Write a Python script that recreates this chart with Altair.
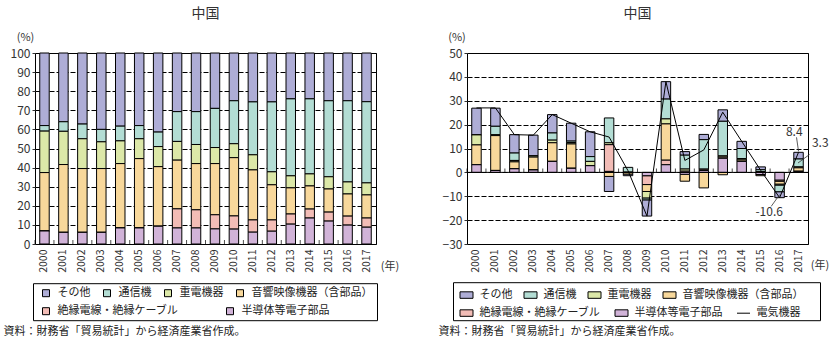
import altair as alt
import pandas as pd

# ---------------- data ----------------
years = [str(y) for y in range(2000, 2018)]
categories = ["その他", "通信機", "重電機器", "音響映像機器（含部品）", "絶縁電線・絶縁ケーブル", "半導体等電子部品"]
line_name = "電気機器"
colors = ["#AEADD6", "#B3DDD4", "#DCE8A8", "#F8D89B", "#F2BCB6", "#D1B3D8"]

title_text = "中国"
source_text = "資料：財務省「貿易統計」から経済産業省作成。"
y_unit = "(%)"
x_unit = "(年)"

# left: composition of exports (%)
share_other = [38.0, 36.0, 37.2, 40.0, 38.3, 38.0, 41.4, 30.7, 30.7, 29.0, 25.0, 25.6, 25.6, 24.0, 24.0, 25.0, 25.0, 25.5]
share_comm = [2.9, 5.0, 7.7, 6.5, 7.7, 6.9, 7.6, 15.6, 17.2, 20.5, 22.5, 27.7, 36.6, 40.3, 39.3, 39.8, 42.5, 42.5]
share_heavy = [21.7, 17.4, 15.6, 14.0, 11.9, 10.4, 10.5, 9.8, 10.0, 8.4, 7.3, 7.9, 6.8, 6.3, 6.3, 6.4, 6.3, 6.3]
share_av = [30.6, 35.5, 33.4, 33.4, 33.7, 36.3, 31.2, 25.5, 24.2, 26.8, 30.5, 26.2, 18.4, 13.7, 12.1, 12.1, 11.6, 12.1]
share_cable = [0, 0, 0, 0, 0, 0, 0, 10.0, 9.5, 7.4, 6.9, 6.4, 5.9, 5.3, 4.7, 4.7, 4.7, 4.8]
share_semi = [6.8, 6.1, 6.1, 6.1, 8.4, 8.4, 9.3, 8.4, 8.4, 7.9, 7.8, 6.2, 6.7, 10.4, 13.6, 12.0, 9.9, 8.8]

# right: contribution to growth (% points)
contrib_other = [11.2, 7.6, 7.7, 8.7, 7.7, 7.5, 10.4, -6.3, -0.7, -6.8, 7.3, 1.5, 2.2, 4.8, 3.0, 1.2, -2.5, 2.8]
contrib_comm = [0, 3.5, 3.1, 0, 3.0, 0.6, 2.0, 10.4, 2.1, -0.8, 8.3, 5.8, 12.4, 14.5, 4.2, 0.8, -2.8, 3.3]
contrib_heavy = [4.2, 0.4, 0.6, 0.5, 1.1, 0.6, 1.8, 0.8, 0, -2.7, 2.1, 0.9, 0, 0.5, 0.6, 0.3, -0.4, 0.4]
contrib_av = [8.3, 14.6, 2.9, 5.4, 7.8, 10.2, 0, -1.7, -0.7, -2.9, 15.2, -2.9, -6.5, -1.0, 0.6, -0.5, -1.2, 1.4]
contrib_cable = [0, 0, 0, 0, 0, 0, 0, 11.2, 0, -3.7, 1.9, 0.5, 0.5, 0.5, 0, 0, -0.5, 0.2]
contrib_semi = [3.2, 0.8, 1.5, 1.0, 4.6, 1.7, 2.8, 0.4, 0, -1.4, 3.2, -0.8, 0.8, 5.9, 4.6, -0.9, -3.2, 0.3]
growth_total = [27.0, 27.0, 15.8, 15.6, 24.2, 20.6, 17.0, 14.8, 0.7, -18.3, 38.0, 5.0, 9.4, 25.2, 13.0, 0.9, -10.6, 8.4]

ann_years = ["2017", "2017", "2016"]
ann_values = [8.4, 3.3, -10.6]

# ---------------- styling ----------------
FONT = "Noto Sans CJK JP"
TXT = "#333333"
W, H = 341, 191
STEP = W / len(years)
RECT = "M-1,-0.5H1V0.5H-1Z"
LINE = "M-1,0H1"


def stack_df(cols):
    rows = []
    n = len(categories)
    for ci, vals in enumerate(cols):
        for yr, v in zip(years, vals):
            rows.append({"year": yr, "cat": categories[ci], "value": v, "ord": n - 1 - ci})
    return pd.DataFrame(rows)


share_df = stack_df([share_other, share_comm, share_heavy, share_av, share_cable, share_semi])
contrib_df = stack_df([contrib_other, contrib_comm, contrib_heavy, contrib_av, contrib_cable, contrib_semi])
total_df = pd.DataFrame({"year": years, "value": growth_total})
year_df = pd.DataFrame({"year": years, "value": [0] * len(years)})
ann_df = pd.DataFrame({"year": ann_years, "value": ann_values,
                       "label": [f"{v:.1f}" for v in ann_values]})
zero_df = pd.DataFrame({"value": [0]})
src_df = pd.DataFrame({"t": [source_text]})
box_df = pd.DataFrame({"b": [1]})

x_scale = alt.Scale(domain=years, paddingInner=0.5, paddingOuter=0.25)


def make_x(tx, ty):
    ax = alt.Axis(title=x_unit, labelAngle=-90, labelFont=FONT, labelFontSize=10.5,
                  labelColor=TXT, labelPadding=5, ticks=False, domain=False, grid=False,
                  labelOverlap=False,
                  titleFont=FONT, titleFontSize=11, titleFontWeight="normal", titleColor=TXT,
                  titleAngle=0, titleX=tx, titleY=ty, titleAlign="center", titleBaseline="middle")
    return lambda: alt.X("year:N", scale=x_scale, axis=ax)


def make_y(domain, values, tx, ty):
    ax = alt.Axis(values=values, title=y_unit, grid=True, gridColor="black", gridDash=[5, 2],
                  gridWidth=1, domain=False, ticks=True, tickSize=3, tickColor=TXT,
                  labelOverlap=False,
                  labelFont=FONT, labelFontSize=12, labelColor=TXT, labelPadding=2,
                  titleFont=FONT, titleFontSize=11, titleFontWeight="normal", titleColor=TXT,
                  titleAngle=0, titleX=tx, titleY=ty, titleAlign="center", titleBaseline="middle")
    sc = alt.Scale(domain=domain, nice=False)
    return lambda **kw: alt.Y("value:Q", scale=sc, axis=ax, **kw)


def chart_title():
    return alt.Title(title_text, font=FONT, fontSize=14, fontWeight="normal", color=TXT,
                     anchor="middle", frame="group", offset=10.5)


def legend_row(cats, cols, shapes, lx, ly, pad, sym_size):
    df = pd.DataFrame({"cat": cats})
    lg = alt.Legend(title=None, orient="none", legendX=lx, legendY=ly, direction="horizontal",
                    columnPadding=pad, padding=0, labelFont=FONT, labelFontSize=11,
                    labelColor="#222222", labelOffset=6, symbolSize=sym_size,
                    symbolStrokeColor="black", symbolStrokeWidth=1, symbolOpacity=1,
                    labelLimit=300)
    return alt.Chart(df).transform_filter("false").mark_point(
        filled=True, opacity=1, strokeWidth=1).encode(
        fill=alt.Fill("cat:N", scale=alt.Scale(domain=cats, range=cols), legend=lg),
        stroke=alt.Stroke("cat:N", scale=alt.Scale(domain=cats, range=["#000000"] * len(cats)),
                          legend=lg),
        shape=alt.Shape("cat:N", scale=alt.Scale(domain=cats, range=shapes), legend=lg),
    )


def legend_box(x1, x2, y1, y2):
    return alt.Chart(box_df).mark_rect(fill="white", fillOpacity=0, stroke="black",
                                       strokeWidth=1).encode(
        x=alt.value(x1), x2=alt.value(x2), y=alt.value(y1), y2=alt.value(y2))


def source_layer(x):
    return alt.Chart(src_df).mark_text(align="left", baseline="middle", font=FONT, fontSize=11,
                                       color="#222222").encode(x=alt.value(x), y=alt.value(H + 88),
                                                               text="t:N")


def ticks_layer(X, Y):
    return alt.Chart(year_df).mark_tick(orient="vertical", size=4, thickness=1, color="black",
                                        xOffset=-STEP / 2, yOffset=-2).encode(x=X(), y=Y())


# ---------------- left chart ----------------
XL = make_x(W + 13.5, 22)
YL = make_y([0, 100], list(range(0, 101, 10)), -10, -15.5)

bars_l = alt.Chart(share_df).mark_bar(stroke="black", strokeWidth=1).encode(
    x=XL(), y=YL(stack="zero"),
    fill=alt.Fill("cat:N", scale=alt.Scale(domain=categories, range=colors), legend=None),
    order=alt.Order("ord:Q", sort="ascending"),
)

left = alt.layer(
    bars_l, ticks_layer(XL, YL),
    legend_box(-1.5, 342.5, 230.7, 267.7),
    legend_row(categories[:4], colors[:4], ["square"] * 4, 5.5, 234.7, 11, 49),
    legend_row(categories[4:], colors[4:], ["square"] * 2, 5.5, 252.7, 46, 49),
    source_layer(-31.5),
).resolve_scale(fill="independent", shape="independent", stroke="independent").properties(
    width=W, height=H, title=chart_title())

# ---------------- right chart ----------------
XR = make_x(352.5, 21.7)
YR = make_y([-30, 50], list(range(-30, 51, 10)), -10.5, -15.5)

bars_r = alt.Chart(contrib_df).mark_bar(stroke="black", strokeWidth=1).encode(
    x=XR(), y=YR(stack="zero"),
    fill=alt.Fill("cat:N", scale=alt.Scale(domain=categories, range=colors), legend=None),
    order=alt.Order("ord:Q", sort="ascending"),
)

zero_r = alt.Chart(zero_df).mark_rule(color="black", strokeWidth=1).encode(y=YR())

line_r = alt.Chart(total_df).mark_line(color="black", strokeWidth=1).encode(x=XR(), y=YR())


def ann_text(i, dx, dy):
    return alt.Chart(ann_df.iloc[[i]]).mark_text(dx=dx, dy=dy, font=FONT, fontSize=12,
                                                 color=TXT).encode(
        x=XR(), y=YR(), text="label:N")


def ann_rule(i, ox1, oy1, ox2, oy2):
    return alt.Chart(ann_df.iloc[[i]]).mark_rule(color="#333333", strokeWidth=0.8,
                                                 xOffset=ox1, yOffset=oy1,
                                                 x2Offset=ox2, y2Offset=oy2).encode(
        x=XR(), x2=alt.X2("year:N"), y=YR(), y2=alt.Y2("value:Q"))


right = alt.layer(
    bars_r, zero_r, ticks_layer(XR, YR), line_r,
    ann_rule(0, 0, -1, -2, -15), ann_text(0, -4.3, -20.3),
    ann_rule(1, -0.5, -1.5, 11, -10), ann_text(1, 21.7, -21.8),
    ann_rule(2, 0, -3, -8.4, 8.7), ann_text(2, -10.4, 14),
    legend_box(-13.5, 353.5, 229.7, 267.7),
    legend_row(categories[:4], colors[:4], [RECT] * 4, -7.5, 234.7, 9, 169),
    legend_row(categories[4:] + [line_name], colors[4:] + ["#000000"], [RECT, RECT, LINE],
               -7.5, 252.7, 12, 169),
    source_layer(-28.5),
).resolve_scale(fill="independent", shape="independent", stroke="independent").properties(
    width=W, height=H, title=chart_title())

chart = alt.hconcat(left, right, spacing=38).resolve_scale(
    x="independent", y="independent", fill="independent", shape="independent",
    stroke="independent"
).resolve_legend(fill="independent", shape="independent", stroke="independent").properties(
    padding={"left": 3, "top": 6, "right": 0, "bottom": 0}, background="white"
).configure_view(stroke="black", strokeWidth=1)

chart.save("out.html", embed_options={"renderer": "svg", "actions": False})
